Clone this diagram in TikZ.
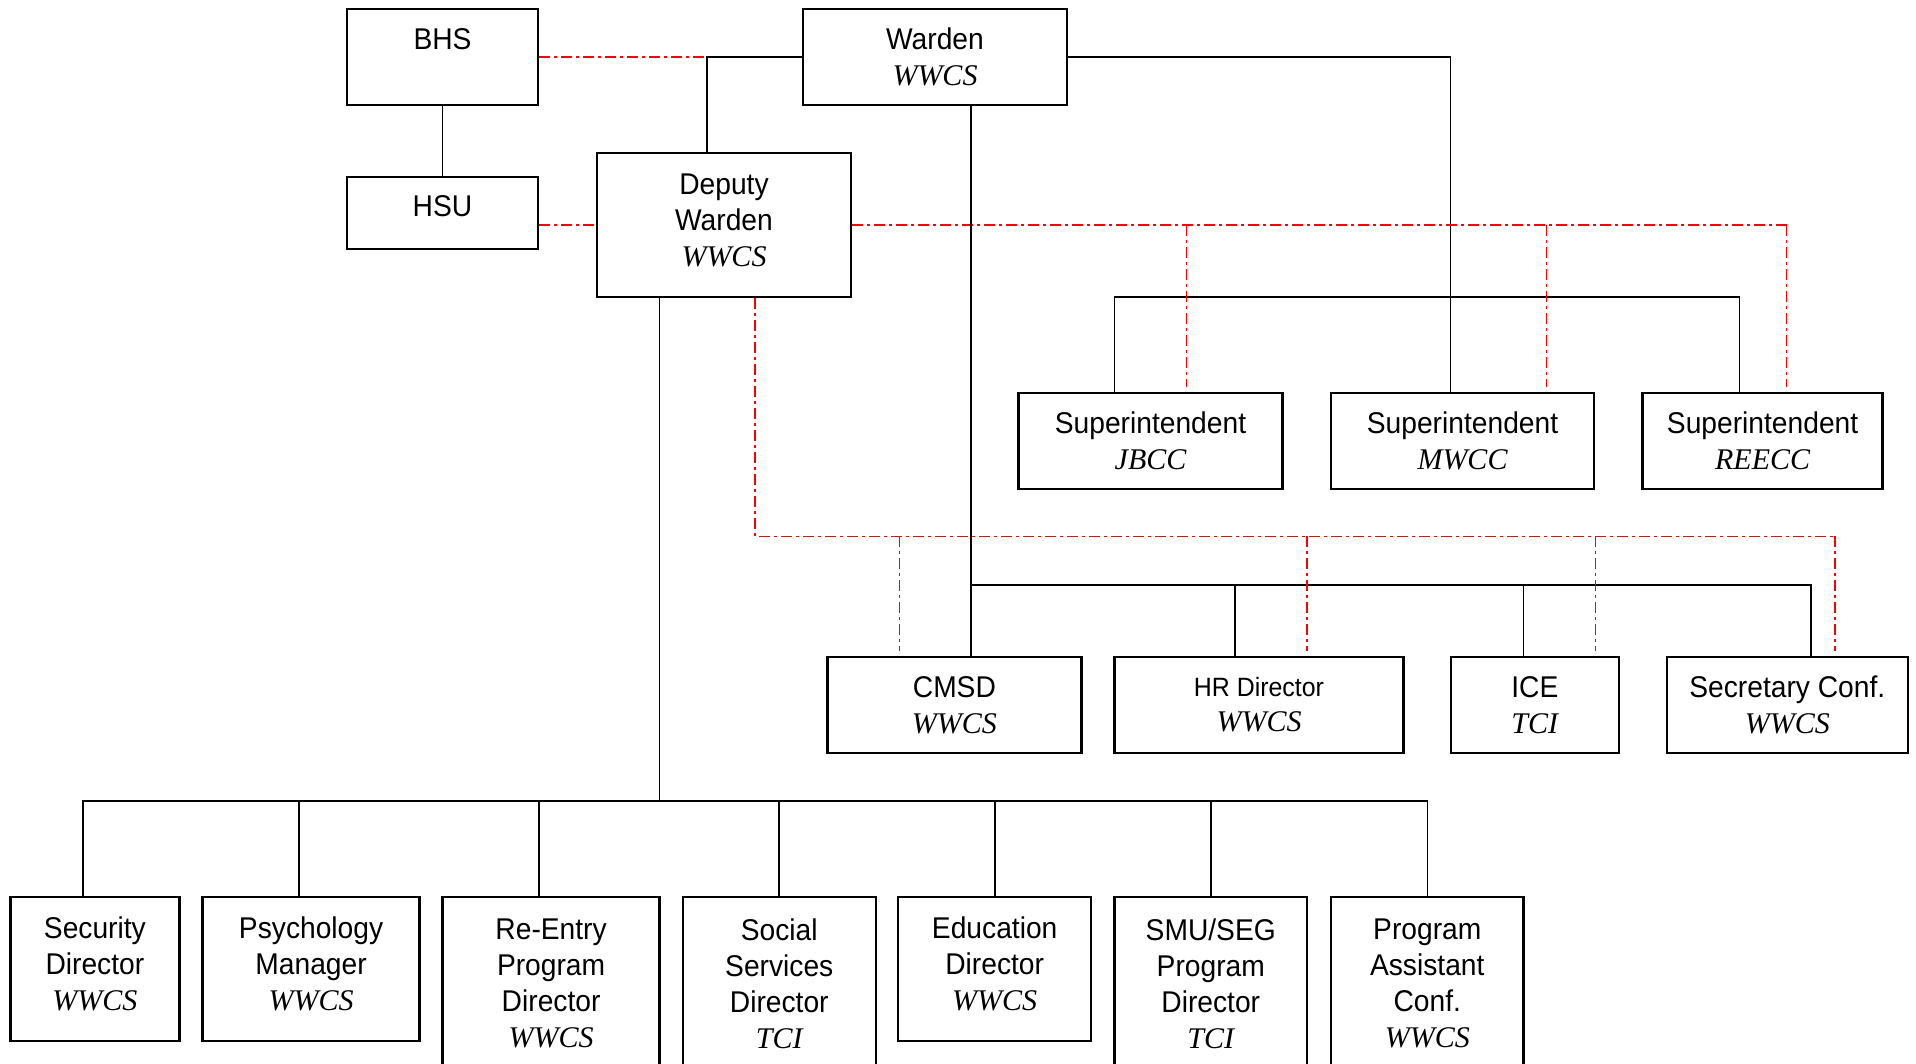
\documentclass[tikz,border=0pt]{standalone}
\usepackage{fontspec}
\setmainfont{Liberation Sans}[FakeStretch=0.94]
\newfontfamily\tnr{Liberation Serif}
\newcommand\orgu[1]{{\tnr\itshape\fontsize{30}{36}\selectfont #1}}
\begin{document}
\begin{tikzpicture}[x=1pt,y=-1pt,
  box/.style={draw, line width=2.3pt, rectangle, inner sep=0pt, align=center, font=\fontsize{30}{36}\selectfont},
  conn/.style={line width=1.7pt},
  rel/.style={red, line width=1.5pt, dash pattern=on 11pt off 4pt on 3pt off 4pt},
  relend/.style={rel, shorten >=5pt}
]
\path[use as bounding box] (0,0) rectangle (1916,1064);
\clip (0,0) rectangle (1916,1064);

% top
\node[box, minimum width=191pt, minimum height=96pt] (BHS) at (442.5,57) {BHS\\~};
\node[box, minimum width=191pt, minimum height=72pt, text depth=13pt] (HSU) at (442.5,213) {HSU};
\node[box, minimum width=264pt, minimum height=96pt] (W) at (935,57) {Warden\\\orgu{WWCS}};
\node[box, minimum width=254pt, minimum height=144pt, text depth=10pt] (DW) at (724,225) {Deputy\\Warden\\\orgu{WWCS}};

% superintendents
\node[box, minimum width=264pt, minimum height=96pt] (JB) at (1150.5,441) {Superintendent\\\orgu{JBCC}};
\node[box, minimum width=263pt, minimum height=96pt] (MW) at (1462.5,441) {Superintendent\\\orgu{MWCC}};
\node[box, minimum width=240pt, minimum height=96pt] (RE) at (1762.6,441) {Superintendent\\\orgu{REECC}};

% row 2
\node[box, minimum width=254pt, minimum height=96pt] (CM) at (954.4,705) {CMSD\\\orgu{WWCS}};
\node[box, minimum width=289pt, minimum height=96pt, font=\fontsize{26.5}{35}\selectfont] (HR) at (1259,705) {HR Director\\\orgu{WWCS}};
\node[box, minimum width=168pt, minimum height=96pt] (IC) at (1534.8,705) {ICE\\\orgu{TCI}};
\node[box, minimum width=241pt, minimum height=96pt] (SC) at (1787.3,705) {Secretary Conf.\\\orgu{WWCS}};

% bottom row
\node[box, minimum width=169pt, minimum height=144.3pt, text depth=10pt] (SD) at (94.9,968.9) {Security\\Director\\\orgu{WWCS}};
\node[box, minimum width=217pt, minimum height=144.3pt, text depth=10pt] (PM) at (311.1,968.9) {Psychology\\Manager\\\orgu{WWCS}};
\node[box, minimum width=217pt, minimum height=173pt] (RP) at (551.1,983.4) {Re-Entry\\Program\\Director\\\orgu{WWCS}};
\node[box, minimum width=193pt, minimum height=173pt] (SS) at (779.25,983.4) {Social\\Services\\Director\\\orgu{TCI}};
\node[box, minimum width=193pt, minimum height=144.3pt, text depth=10pt] (ED) at (994.7,968.9) {Education\\Director\\\orgu{WWCS}};
\node[box, minimum width=192.5pt, minimum height=173pt] (SM) at (1210.75,983.4) {SMU/SEG\\Program\\Director\\\orgu{TCI}};
\node[box, minimum width=192.5pt, minimum height=173pt] (PA) at (1427.25,983.4) {Program\\Assistant\\Conf.\\\orgu{WWCS}};

% top connectors
\coordinate (wd) at (707,57);
\draw[conn] (W.west) -- (wd) -- (wd |- DW.north);
\draw[rel] (BHS.east) -- (wd);
\draw[conn] (BHS) -- (HSU);
\draw[rel] (HSU.east |- DW.west) -- (DW.west);

% warden to superintendents
\coordinate (wr) at (1450.5,57);
\draw[conn] (W.east) -- (wr) -- (wr |- MW.north);
\coordinate (sb1) at (1114.6,297);
\coordinate (sb2) at (1739.5,297);
\draw[conn] (sb1 |- JB.north) -- (sb1) -- (sb2) -- (sb2 |- RE.north);

% deputy red to superintendents
\coordinate (ra) at (1186.5,225);
\coordinate (rb) at (1546.6,225);
\coordinate (rc) at (1786.5,225);
\draw[rel] (DW.east) -- (rc);
\draw[relend] (rc) -- (rc |- RE.north);
\draw[relend] (ra) -- (ra |- JB.north);
\draw[relend] (rb) -- (rb |- MW.north);

% warden to row 2
\coordinate (wv) at ([xshift=36pt]W.south);
\draw[conn] (wv) -- (wv |- CM.north);
\coordinate (cb) at (971,585.3);
\coordinate (hb) at (1235,585.3);
\coordinate (ib) at (1523.5,585.3);
\coordinate (sb) at (1811,585.3);
\draw[conn] (cb) -- (sb) -- (sb |- SC.north);
\draw[conn] (hb) -- (hb |- HR.north);
\draw[conn] (ib) -- (ib |- IC.north);

% deputy red to row 2
\coordinate (dr) at ([xshift=31pt]DW.south);
\coordinate (drc) at (755,536.4);
\coordinate (r1) at (899.3,536.4);
\coordinate (r2) at (1307,536.4);
\coordinate (r3) at (1595.4,536.4);
\coordinate (r4) at (1835,536.4);
\draw[rel] (dr) -- (drc) -- (r4);
\draw[relend] (r4) -- (r4 |- SC.north);
\draw[relend] (r1) -- (r1 |- CM.north);
\draw[relend] (r2) -- (r2 |- HR.north);
\draw[relend] (r3) -- (r3 |- IC.north);

% deputy to bottom row
\coordinate (db) at ([xshift=-64.4pt]DW.south);
\coordinate (dbb) at (659.6,801);
\draw[conn] (db) -- (dbb);
\coordinate (b1) at (83.3,801);
\coordinate (b2) at (298.8,801);
\coordinate (b3) at (538.9,801);
\coordinate (b4) at (779,801);
\coordinate (b5) at (995.3,801);
\coordinate (b6) at (1211,801);
\coordinate (b7) at (1427.5,801);
\draw[conn] (b1 |- SD.north) -- (b1) -- (b7) -- (b7 |- PA.north);
\draw[conn] (b2) -- (b2 |- PM.north);
\draw[conn] (b3) -- (b3 |- RP.north);
\draw[conn] (b4) -- (b4 |- SS.north);
\draw[conn] (b5) -- (b5 |- ED.north);
\draw[conn] (b6) -- (b6 |- SM.north);
\end{tikzpicture}
\end{document}
